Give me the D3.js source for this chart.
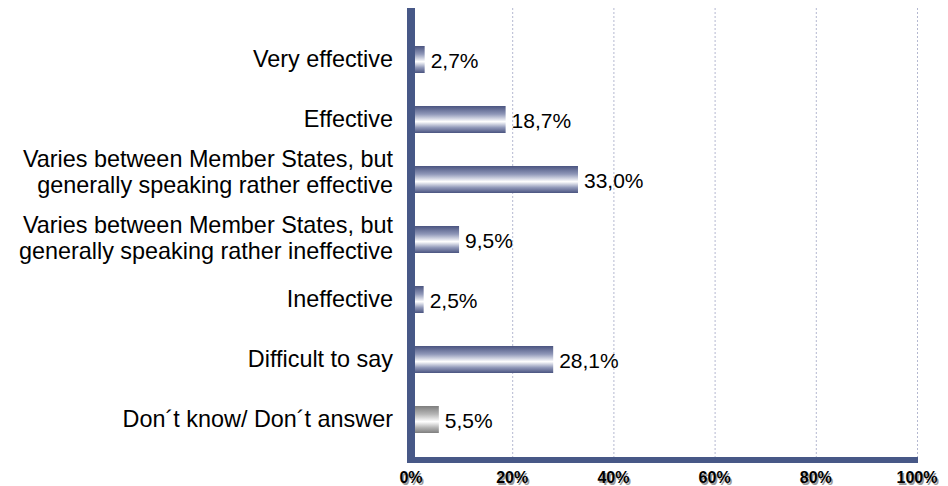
<!DOCTYPE html>
<html><head><meta charset="utf-8">
<script src="https://cdn.jsdelivr.net/npm/d3@7"></script>
<style>html,body{margin:0;padding:0;background:#fff;}svg{display:block;}</style>
</head><body>
<svg id="c" width="948" height="486"></svg>
<script>
const categories = [
  ["Very effective"],
  ["Effective"],
  ["Varies between Member States, but", "generally speaking rather effective"],
  ["Varies between Member States, but", "generally speaking rather ineffective"],
  ["Ineffective"],
  ["Difficult to say"],
  ["Don´t know/ Don´t answer"]
];
const values = [2.7, 18.7, 33.0, 9.5, 2.5, 28.1, 5.5];
const valueLabels = ["2,7%", "18,7%", "33,0%", "9,5%", "2,5%", "28,1%", "5,5%"];
const barType = ["blue","blue","blue","blue","blue","blue","gray"];
const ticks = [0, 20, 40, 60, 80, 100];
const tickLabels = ["0%", "20%", "40%", "60%", "80%", "100%"];

const svg = d3.select("#c");
const x = d3.scaleLinear().domain([0, 100]).range([411, 917]);
const y = d3.scaleBand().domain(d3.range(categories.length)).range([29.5, 449.5]).paddingInner(0.55).paddingOuter(0.275);

const defs = svg.append("defs");
function grad(id, dark, mid) {
  const g = defs.append("linearGradient").attr("id", id).attr("x1", 0).attr("y1", 0).attr("x2", 0).attr("y2", 1);
  [[0, dark],[0.3, mid],[0.58, "#ffffff"],[0.8, mid],[1, dark]].forEach(s =>
    g.append("stop").attr("offset", s[0]).attr("stop-color", s[1]));
}
grad("gblue", "#4a5480", "#8f97b8");
grad("ggray", "#7e7e7e", "#b5b5b5");

// gridlines
svg.append("g").selectAll("line").data(ticks.slice(1)).join("line")
  .attr("x1", d => x(d) + 0.5).attr("x2", d => x(d) + 0.5)
  .attr("y1", 8).attr("y2", 457)
  .attr("stroke", "#b4b8d0").attr("stroke-width", 1).attr("stroke-dasharray", "2,2");

// bars
svg.append("g").selectAll("rect").data(values).join("rect")
  .attr("x", x(0)).attr("y", (d, i) => y(i))
  .attr("width", d => x(d) - x(0)).attr("height", y.bandwidth())
  .attr("fill", (d, i) => barType[i] === "gray" ? "url(#ggray)" : "url(#gblue)");

// value labels
svg.append("g").selectAll("text").data(values).join("text")
  .attr("x", d => x(d) + 6).attr("y", (d, i) => y(i) + y.bandwidth() / 2 + 8.5)
  .attr("font-family", "Liberation Sans, Arial, sans-serif").attr("font-size", 21)
  .attr("fill", "#000").text((d, i) => valueLabels[i]);

// category labels
const cl = svg.append("g").selectAll("g").data(categories).join("g")
  .attr("transform", (d, i) => `translate(393,${y(i) + y.bandwidth() / 2})`);
cl.each(function(lines, i) {
  const g = d3.select(this);
  const lh = 25.5;
  const off = lines.length === 1 ? 7.5 : (i === 2 ? -12.5 : -6.5);
  lines.forEach((t, k) => g.append("text").attr("x", 0).attr("y", off + k * lh)
    .attr("text-anchor", "end").attr("font-family", "Liberation Sans, Arial, sans-serif")
    .attr("font-size", 23.4).attr("fill", "#000").text(t));
});

// axes
svg.append("rect").attr("x", 407).attr("y", 8).attr("width", 8).attr("height", 455).attr("fill", "#475887");
svg.append("rect").attr("x", 407).attr("y", 457).attr("width", 511).attr("height", 6).attr("fill", "#475887");

// tick labels with shadow
const tl = svg.append("g");
tl.selectAll("text.s").data(ticks).join("text").attr("class", "s")
  .attr("x", d => x(d) + 1.5).attr("y", 484.5).attr("text-anchor", "middle")
  .attr("font-family", "Liberation Sans, Arial, sans-serif").attr("font-weight", "bold").attr("font-size", 16)
  .attr("fill", "#9a9a9a").text((d, i) => tickLabels[i]);
tl.selectAll("text.t").data(ticks).join("text").attr("class", "t")
  .attr("x", d => x(d)).attr("y", 483).attr("text-anchor", "middle")
  .attr("font-family", "Liberation Sans, Arial, sans-serif").attr("font-weight", "bold").attr("font-size", 16)
  .attr("fill", "#000").text((d, i) => tickLabels[i]);
</script>
</body></html>
